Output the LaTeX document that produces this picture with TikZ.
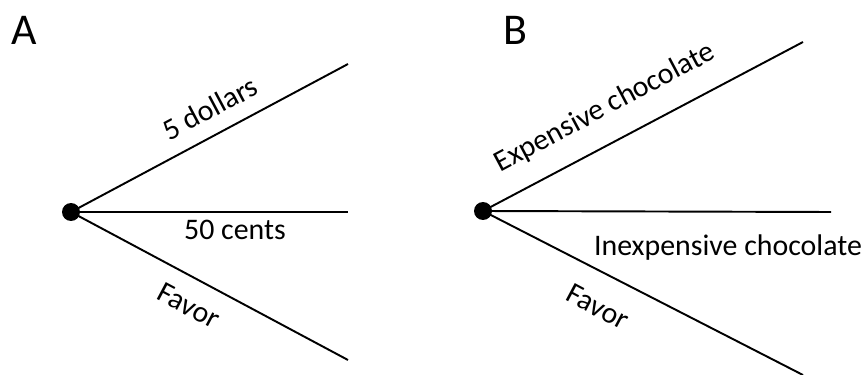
\documentclass[tikz,border=0pt]{standalone}
\usepackage{fontspec}
\setmainfont{Carlito}
\usepackage{tikz}
\usetikzlibrary{positioning}

\begin{document}
\begin{tikzpicture}[x=0.02cm, y=-0.02cm,
    branch/.style={line width=1.1pt},
    root/.style={circle, fill=black, inner sep=0pt, minimum size=0.36cm},
    lbl/.style={font=\fontsize{17}{19}\selectfont, inner sep=0pt},
    panel/.style={font=\fontsize{25}{28}\selectfont, inner sep=0pt}]
  \useasboundingbox (0,0) rectangle (866,375);

  % Panel A
  \node[panel] (tagA) at (24,30) {A};
  \node[root] (dotA) at (71,212) {};
  \coordinate (topA) at (348,64);
  \coordinate (midA) at (348,212);
  \coordinate (botA) at (348,360);
  \draw[branch] (dotA.center) -- (topA);
  \draw[branch] (dotA.center) -- (midA);
  \draw[branch] (dotA.center) -- (botA);
  \node[lbl, rotate=28] (dollars) at (210,108) {5 dollars};
  \node[lbl] (cents) at (235,230) {50 cents};
  \node[lbl, rotate=-28] (favorA) at (189,306) {Favor};

  % Panel B
  \node[panel] (tagB) at (515,30) {B};
  \node[root] (dotB) at (483,211) {};
  \coordinate (topB) at (803,42);
  \coordinate (midB) at (831,212);
  \coordinate (botB) at (803,375);
  \draw[branch] (dotB.center) -- (topB);
  \draw[branch] (dotB.center) -- (midB);
  \draw[branch] (dotB.center) -- (botB);
  \node[lbl, rotate=28] (expensive) at (605,108) {Expensive chocolate};
  \node[lbl] (inexpensive) at (728,248) {Inexpensive chocolate};
  \node[lbl, rotate=-28] (favorB) at (598,307) {Favor};
\end{tikzpicture}
\end{document}
